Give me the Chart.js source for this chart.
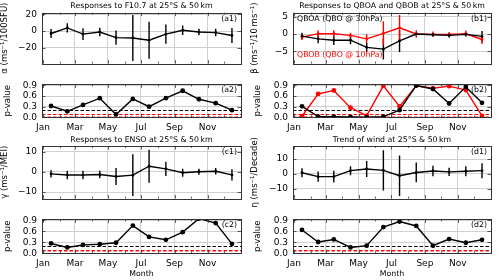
<!DOCTYPE html>
<html>
<head>
<meta charset="utf-8">
<script src="https://cdn.jsdelivr.net/npm/chart.js@4/dist/chart.umd.min.js"></script>
<style>
  body { margin: 0; background: #fff; }
  #fig { position: relative; width: 500px; height: 280px; overflow: hidden; }
  #fig canvas { position: absolute; }
</style>
</head>
<body>
<div id="fig"></div>
<script>
// x positions are day-of-year (mid-month points)
const monthDays = [15, 45, 74, 105, 135, 166, 196, 227, 258, 288, 319, 349];
const tickDays = [0, 59, 120, 181, 243, 304];
const tickLabels = ['Jan', 'Mar', 'May', 'Jul', 'Sep', 'Nov'];
const minorDays = [0, 31, 59, 90, 120, 151, 181, 212, 243, 273, 304, 334];

// F10.7
const alphaVal = [-2.8, 3.8, -3.5, -1.0, -7.7, -8.2, -10.8, -3.5, 1.0, -1.0, -1.7, -5.2];
const alphaErr = [5.5, 5.5, 7.0, 5.0, 8.5, 27.5, 22.0, 11.5, 5.7, 4.0, 4.5, 9.0];
const alphaP = [0.32, 0.17, 0.35, 0.54, 0.08, 0.52, 0.30, 0.54, 0.75, 0.51, 0.40, 0.20];

// QBO
const qboaVal = [-0.6, -1.4, -1.8, -1.8, -3.9, -4.4, -2.0, 0.0, -0.2, -0.4, -0.1, -0.7];
const qboaErr = [1.0, 1.3, 1.4, 1.2, 1.3, 3.0, 3.2, 0.3, 0.5, 0.6, 0.4, 1.6];
const qboaP = [0.31, 0.02, 0.02, 0.01, 0.0, 0.02, 0.20, 0.90, 0.80, 0.39, 0.86, 0.41];
const qbobVal = [-0.9, 0.1, 0.1, -0.4, -1.4, 0.2, 1.8, 0.0, -0.1, -0.1, 0.1, -1.6];
const qbobErr = [0.8, 1.0, 1.0, 0.8, 1.3, 3.5, 3.7, 1.1, 0.8, 0.7, 0.9, 1.3];
const qbobP = [0.03, 0.66, 0.76, 0.27, 0.05, 0.89, 0.31, 0.89, 0.82, 0.88, 0.77, 0.04];

// ENSO
const gammaVal = [-1.0, -1.5, -1.5, -1.3, -2.3, -1.6, 2.8, 1.5, -0.4, 0.1, 0.3, -1.5];
const gammaErr = [1.8, 2.1, 2.1, 1.9, 4.2, 10.3, 8.2, 3.5, 2.0, 1.5, 1.6, 2.8];
const gammaP = [0.27, 0.16, 0.23, 0.25, 0.29, 0.76, 0.45, 0.37, 0.58, 0.95, 0.83, 0.26];

// trend
const etaVal = [0.8, -1.8, -1.8, 2.2, 3.3, 2.4, -1.2, 1.0, 2.0, 1.4, 1.8, 2.2];
const etaErr = [3.0, 3.5, 4.0, 3.0, 5.4, 13.5, 13.5, 6.6, 3.5, 2.8, 3.4, 5.0];
const etaP = [0.64, 0.31, 0.38, 0.16, 0.21, 0.72, 0.87, 0.75, 0.21, 0.39, 0.29, 0.37];

const pTicks = [0, 0.3, 0.6, 0.9];
const pLines = [0.2, 0.1, 0.05];

const FONT = 'DejaVu Sans';
const RED = '#ff0000';
const fig = document.getElementById('fig');

// column geometry (plot area edges)
const COLS = [{ x: 0, left: 42, right: 241 }, { x: 250, left: 293, right: 491 }];

const deco = {
  id: 'deco',
  beforeDatasetsDraw(chart, args, o) {
    const { ctx, chartArea: a, scales: { x, y } } = chart;
    ctx.save();
    ctx.beginPath();
    ctx.rect(a.left, a.top, a.right - a.left, a.bottom - a.top);
    ctx.clip();
    if (o.pLines) {
      const styles = ['#000', RED, 'rgba(255,0,0,0.45)'];
      o.pLines.forEach((v, i) => {
        const py = Math.round(y.getPixelForValue(v)) + 0.5;
        ctx.strokeStyle = styles[i];
        ctx.lineWidth = 1;
        ctx.setLineDash([3.5, 2]);
        ctx.beginPath(); ctx.moveTo(a.left, py); ctx.lineTo(a.right, py); ctx.stroke();
      });
      ctx.setLineDash([]);
    }
    chart.data.datasets.forEach(ds => {
      if (!ds.errs) return;
      ctx.strokeStyle = ds.borderColor;
      ctx.lineWidth = 1.4;
      ds.data.forEach((pt, i) => {
        const px = x.getPixelForValue(pt.x);
        ctx.beginPath();
        ctx.moveTo(px, y.getPixelForValue(pt.y - ds.errs[i]));
        ctx.lineTo(px, y.getPixelForValue(pt.y + ds.errs[i]));
        ctx.stroke();
      });
    });
    ctx.restore();
  },
  afterDraw(chart, args, o) {
    const { ctx, chartArea: a, scales: { x, y } } = chart;
    ctx.save();
    // inward ticks
    ctx.strokeStyle = '#333';
    ctx.lineWidth = 0.8;
    ctx.beginPath();
    minorDays.forEach(d => {
      const px = Math.round(x.getPixelForValue(d)) + 0.5;
      const len = tickDays.includes(d) ? 3.5 : 2;
      ctx.moveTo(px, a.bottom); ctx.lineTo(px, a.bottom - len);
      ctx.moveTo(px, a.top); ctx.lineTo(px, a.top + len);
    });
    y.ticks.forEach(t => {
      const py = Math.round(y.getPixelForValue(t.value)) + 0.5;
      ctx.moveTo(a.left, py); ctx.lineTo(a.left + 3.5, py);
      ctx.moveTo(a.right, py); ctx.lineTo(a.right - 3.5, py);
    });
    ctx.stroke();
    // frame
    ctx.strokeStyle = '#333';
    ctx.lineWidth = 1;
    ctx.strokeRect(Math.round(a.left) + 0.5, Math.round(a.top) + 0.5,
      Math.round(a.right - a.left), Math.round(a.bottom - a.top));
    // texts
    ctx.fillStyle = '#000';
    ctx.textBaseline = 'middle';
    ctx.font = '7.8px "' + FONT + '"';
    if (o.title) {
      ctx.textAlign = 'center';
      ctx.fillText(o.title, (a.left + a.right) / 2, a.top - 6.5);
    }
    if (o.tag) {
      ctx.textAlign = 'right';
      ctx.fillText(o.tag, a.right - 4, a.top + 6);
    }
    (o.notes || []).forEach(n => {
      ctx.textAlign = 'left';
      ctx.fillStyle = n.color;
      ctx.fillText(n.text, a.left + 4, n.fromBottom ? a.bottom - n.dy : a.top + n.dy);
    });
    ctx.restore();
  }
};

function fmtTick(v, isP) {
  if (isP) return v.toFixed(1);
  return v < 0 ? '\u2212' + Math.abs(v) : String(v);
}

function makePanel(p) {
  const col = COLS[p.col];
  const cv = document.createElement('canvas');
  cv.width = 250;
  cv.height = p.canvas[1] - p.canvas[0];
  cv.style.left = col.x + 'px';
  cv.style.top = p.canvas[0] + 'px';
  fig.appendChild(cv);
  const xH = p.xLabels ? p.canvas[1] - p.bottom : 0;
  const datasets = p.series.map(s => ({
    data: monthDays.map((d, i) => ({ x: d, y: s.val[i] })),
    errs: s.err || null,
    borderColor: s.color,
    backgroundColor: s.color,
    borderWidth: 1.4,
    pointRadius: p.isP ? 2.4 : 1.4,
    pointBorderWidth: 0,
    tension: 0,
    clip: 0
  }));
  new Chart(cv, {
    type: 'line',
    data: { datasets },
    options: {
      responsive: false,
      animation: false,
      events: [],
      layout: {
        padding: {
          left: 0,
          top: p.top - p.canvas[0],
          right: col.x + 250 - col.right,
          bottom: p.xLabels ? 0 : p.canvas[1] - p.bottom
        }
      },
      plugins: {
        legend: { display: false },
        tooltip: { enabled: false },
        deco: { title: p.title, tag: p.tag, notes: p.notes, pLines: p.isP ? pLines : null }
      },
      scales: {
        x: {
          type: 'linear',
          min: -1.7,
          max: 365.7,
          afterBuildTicks: s => { s.ticks = tickDays.map(v => ({ value: v })); },
          afterFit: s => { s.height = xH; },
          grid: { color: '#d0d0d0', lineWidth: 1, drawTicks: false },
          border: { display: false },
          ticks: {
            display: !!p.xLabels,
            padding: 5,
            color: '#000',
            font: { family: FONT, size: 9 },
            maxRotation: 0,
            autoSkip: false,
            callback: (v, i) => tickLabels[i]
          },
          title: {
            display: !!p.xTitle,
            text: 'Month',
            color: '#000',
            font: { family: FONT, size: 7.8 },
            padding: { top: 0, bottom: 1 }
          }
        },
        y: {
          min: p.yRange[0],
          max: p.yRange[1],
          afterBuildTicks: s => { s.ticks = p.yTicks.map(v => ({ value: v })); },
          afterFit: s => { s.width = col.left - col.x; },
          grid: { color: '#d0d0d0', lineWidth: 1, drawTicks: false },
          border: { display: false },
          ticks: {
            padding: 5,
            autoSkip: false,
            color: '#000',
            font: { family: FONT, size: 9 },
            callback: v => fmtTick(v, p.isP)
          },
          title: {
            display: true,
            text: p.yTitle,
            color: '#000',
            font: { family: FONT, size: 8.5 },
            padding: { top: p.yTitlePad, bottom: 0 }
          }
        }
      }
    },
    plugins: [deco]
  });
}

const panels = [
  { col: 0, canvas: [0, 74], top: 12.7, bottom: 70, yRange: [-38.7, 22], yTicks: [-20, 0, 20],
    yTitle: '\u03b1 (ms\u207b\u00b9/100SFU)', yTitlePad: 0, title: 'Responses to F10.7 at 25\u00b0S & 50\u2009km', tag: '(a1)',
    series: [{ val: alphaVal, err: alphaErr, color: '#000' }] },
  { col: 0, canvas: [74, 134], top: 78.7, bottom: 117.3, yRange: [0, 0.93], yTicks: pTicks, isP: true, xLabels: true,
    yTitle: 'p-value', yTitlePad: 3, tag: '(a2)',
    series: [{ val: alphaP, color: '#000' }] },
  { col: 1, canvas: [0, 74], top: 12.7, bottom: 70, yRange: [-8.6, 6.2], yTicks: [-5, 0, 5],
    yTitle: '\u03b2 (ms\u207b\u00b9/10\u2009ms\u207b\u00b9)', yTitlePad: 0, title: 'Responses to QBOA and QBOB at 25\u00b0S & 50\u2009km', tag: '(b1)',
    notes: [{ text: 'QBOA (QBO @ 30hPa)', color: '#000', dy: 6 }, { text: 'QBOB (QBO @ 10hPa)', color: RED, dy: 8.5, fromBottom: true }],
    series: [{ val: qboaVal, err: qboaErr, color: '#000' }, { val: qbobVal, err: qbobErr, color: RED }] },
  { col: 1, canvas: [74, 134], top: 78.7, bottom: 117.3, yRange: [0, 0.93], yTicks: pTicks, isP: true, xLabels: true,
    yTitle: 'p-value', yTitlePad: 3, tag: '(b2)',
    series: [{ val: qboaP, color: '#000' }, { val: qbobP, color: RED }] },
  { col: 0, canvas: [134, 209], top: 146, bottom: 205, yRange: [-13.2, 12.8], yTicks: [-10, 0, 10],
    yTitle: '\u03b3 (ms\u207b\u00b9/MEI)', yTitlePad: 0, title: 'Responses to ENSO at 25\u00b0S & 50\u2009km', tag: '(c1)',
    series: [{ val: gammaVal, err: gammaErr, color: '#000' }] },
  { col: 0, canvas: [209, 280], top: 214, bottom: 253.3, yRange: [0, 0.93], yTicks: pTicks, isP: true, xLabels: true, xTitle: true,
    yTitle: 'p-value', yTitlePad: 3, tag: '(c2)',
    series: [{ val: gammaP, color: '#000' }] },
  { col: 1, canvas: [134, 209], top: 146, bottom: 205, yRange: [-16.5, 18.7], yTicks: [-10, 0, 10],
    yTitle: '\u03b7 (ms\u207b\u00b9/Decade)', yTitlePad: 0, title: 'Trend of wind at 25\u00b0S & 50\u2009km', tag: '(d1)',
    series: [{ val: etaVal, err: etaErr, color: '#000' }] },
  { col: 1, canvas: [209, 280], top: 214, bottom: 253.3, yRange: [0, 0.93], yTicks: pTicks, isP: true, xLabels: true, xTitle: true,
    yTitle: 'p-value', yTitlePad: 3, tag: '(d2)',
    series: [{ val: etaP, color: '#000' }] }
];

panels.forEach(makePanel);
</script>
</body>
</html>
